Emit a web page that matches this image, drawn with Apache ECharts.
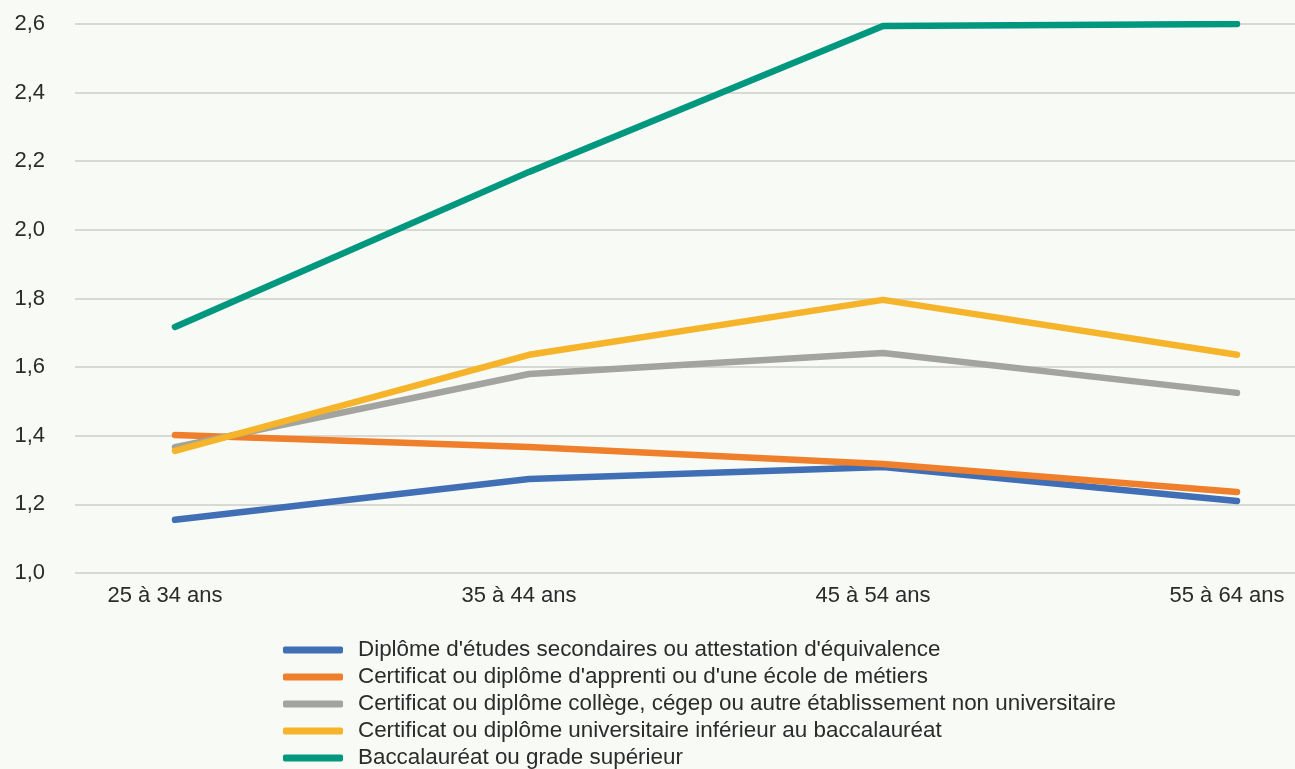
<!DOCTYPE html>
<html>
<head>
<meta charset="utf-8">
<script src="https://cdn.jsdelivr.net/npm/echarts@6/dist/echarts.min.js"></script>
<style>
  html, body { margin: 0; padding: 0; background: #f8faf6; }
  #chart { width: 1295px; height: 769px; }
</style>
</head>
<body>
<div id="chart"></div>
<script>
// catégories d'âge
const ageGroups = ["25 à 34 ans", "35 à 44 ans", "45 à 54 ans", "55 à 64 ans"];
const seriesNames = [
  "Diplôme d'études secondaires ou attestation d'équivalence",
  "Certificat ou diplôme d'apprenti ou d'une école de métiers",
  "Certificat ou diplôme collège, cégep ou autre établissement non universitaire",
  "Certificat ou diplôme universitaire inférieur au baccalauréat",
  "Baccalauréat ou grade supérieur",
];
const secondaire = [1.155, 1.274, 1.309, 1.21];
const apprenti = [1.402, 1.367, 1.318, 1.236];
const college = [1.367, 1.58, 1.641, 1.525];
const universitaire = [1.356, 1.636, 1.796, 1.636];
const baccalaureat = [1.717, 2.169, 2.594, 2.6];
const colors = ["#416fb6", "#ef7f2b", "#a3a39f", "#f5b42a", "#00977f"];
const yTicks = { min: 1.0, max: 2.6, interval: 0.2 };

const chart = echarts.init(document.getElementById("chart"));
const font = "'Liberation Sans', Arial, sans-serif";
const allData = [secondaire, apprenti, college, universitaire, baccalaureat];

const option = {
  backgroundColor: "#f8faf6",
  animation: false,
  textStyle: { fontFamily: font },
  grid: [
    // grille de fond (lignes horizontales)
    { left: 75, right: 0, top: 24, bottom: 196 },
    // zone des courbes
    { left: 175, right: 58, top: 24, bottom: 196 },
  ],
  xAxis: [
    { gridIndex: 0, type: "value", show: false, min: 0, max: 1 },
    {
      gridIndex: 1,
      type: "category",
      data: ageGroups,
      boundaryGap: false,
      axisLine: { show: false },
      axisTick: { show: false },
      axisLabel: {
        color: "#2b2b2b",
        fontSize: 22,
        fontFamily: font,
        margin: 12,
        padding: [0, 20, 0, 0],
      },
    },
  ],
  yAxis: [
    {
      gridIndex: 0,
      type: "value",
      min: yTicks.min,
      max: yTicks.max,
      interval: yTicks.interval,
      axisLine: { show: false },
      axisTick: { show: false },
      axisLabel: {
        color: "#2b2b2b",
        fontSize: 22,
        fontFamily: font,
        margin: 30,
        formatter: (v) => v.toFixed(1).replace(".", ","),
      },
      splitLine: { lineStyle: { color: "#d8d9d4", width: 2 } },
    },
    {
      gridIndex: 1,
      type: "value",
      min: yTicks.min,
      max: yTicks.max,
      interval: yTicks.interval,
      show: false,
      splitLine: { show: false },
    },
  ],
  legend: {
    orient: "vertical",
    left: 283,
    top: 639,
    height: 200,
    padding: 0,
    icon: "roundRect",
    itemWidth: 60,
    itemHeight: 7,
    itemGap: 5,
    textStyle: {
      color: "#2b2b2b",
      fontSize: 22.4,
      fontFamily: font,
      lineHeight: 22,
      padding: [0, 0, 0, 10],
    },
    data: seriesNames,
  },
  series: seriesNames.map((name, i) => ({
    name: name,
    type: "line",
    xAxisIndex: 1,
    yAxisIndex: 1,
    data: allData[i],
    showSymbol: false,
    symbol: "none",
    color: colors[i],
    lineStyle: { width: 6.5, color: colors[i], cap: "round", join: "round" },
    itemStyle: { color: colors[i] },
  })),
};

chart.setOption(option);
</script>
</body>
</html>
